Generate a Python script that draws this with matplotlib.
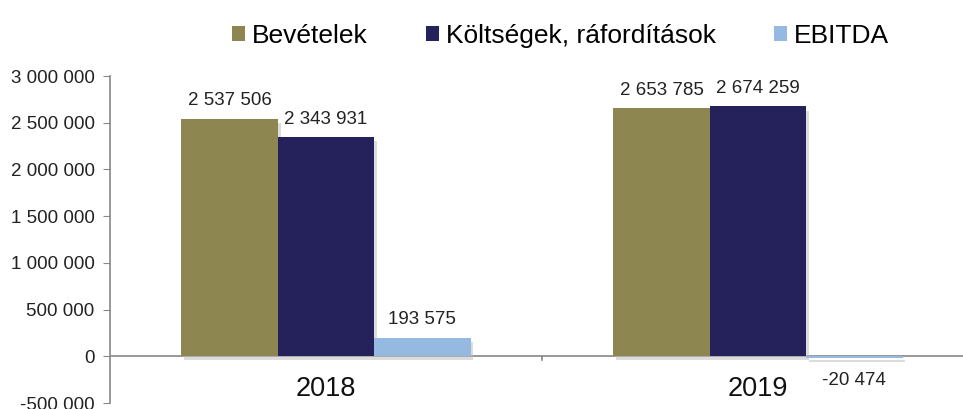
import matplotlib
matplotlib.use("Agg")
import matplotlib.pyplot as plt
import matplotlib.patheffects as pe
from matplotlib.patches import Patch
import numpy as np

plt.rcParams['font.family'] = ['Liberation Sans', 'DejaVu Sans']

years = ["2018", "2019"]
series = ["Bevételek", "Költségek, ráfordítások", "EBITDA"]
bevetelek = [2537506, 2653785]
koltsegek = [2343931, 2674259]
ebitda = [193575, -20474]
colors = ["#8E8650", "#25215B", "#96B9E1"]

def fmt(v):
    s = f"{abs(v):,}".replace(",", " ")
    return ("-" if v < 0 else "") + s

fig = plt.figure(figsize=(9.63, 4.09), dpi=100)
ax = fig.add_axes([110/963, 1-403/409, 1-110/963, (403-76)/409])

x = np.arange(len(years))
w = 0.223
vals = [bevetelek, koltsegek, ebitda]
for i, (name, v, c) in enumerate(zip(series, vals, colors)):
    pos = x + (i - 1) * w
    ax.bar(pos, v, width=w, color=c, zorder=3,
           path_effects=[pe.SimplePatchShadow(offset=(2, -3), shadow_rgbFace='#bbbbbb', alpha=0.5), pe.Normal()])
    for p, val in zip(pos, v):
        if val >= 0:
            ax.annotate(fmt(val), (p, val), xytext=(0, 7), textcoords="offset points",
                        ha="center", va="bottom", fontsize=13.5, color="#222222")
        else:
            ax.annotate(fmt(val), (p, val), xytext=(0, -16), textcoords="offset points",
                        ha="center", va="center", fontsize=13.5, color="#222222")

ax.set_xlim(-0.5, -0.5 + (963-110)/432)
ax.set_ylim(-500000, 3000000)
yt = np.arange(-500000, 3000001, 500000)
ax.set_yticks(yt)
ax.set_yticklabels([fmt(int(t)) for t in yt], fontsize=13.5, color="#222222")
ax.axhline(0, color="#888888", lw=1.2, zorder=2)
for s in ["top", "right", "bottom"]:
    ax.spines[s].set_visible(False)
ax.spines["left"].set_color("#888888")
ax.spines["left"].set_linewidth(1.2)
ax.tick_params(axis="y", length=5, color="#888888", pad=6)
ax.set_xticks([])
ax.plot([0.5, 0.5], [0, -45000], color="#888888", lw=1.2, clip_on=False)
for xi, yr in zip(x, years):
    ax.text(xi, -350000, yr, ha="center", va="center", fontsize=19.5, color="#111111")

handles = [Patch(facecolor=c, edgecolor="none", label=n) for n, c in zip(series, colors)]
fig.legend(handles=handles, loc="upper center", bbox_to_anchor=(0.582, 1.0), ncol=3, frameon=False,
           fontsize=19, handlelength=0.5, handleheight=0.5, handletextpad=0.25, columnspacing=2.2)

fig.savefig("out.png", dpi=100)
